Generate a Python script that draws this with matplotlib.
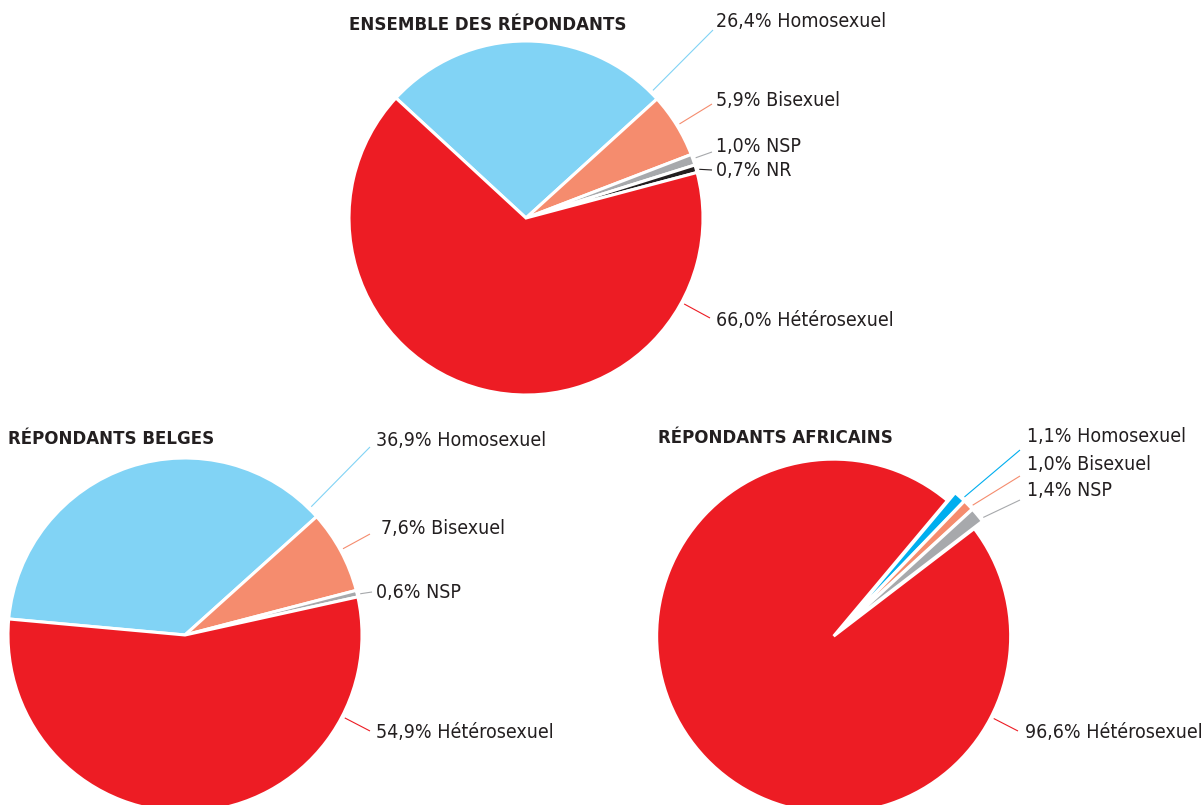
import math
import matplotlib
matplotlib.use('Agg')
import matplotlib.pyplot as plt
from matplotlib import font_manager

W, H = 1204, 805
R = 177

# colours
RED = '#ED1C24'
LIGHT_BLUE = '#81D3F5'
BLUE = '#00AEEF'
SALMON = '#F58C6E'
GREY = '#A7A9AC'
BLACK = '#231F20'
TEXT = '#231F20'

# data (percent)
ensemble_names = ['Homosexuel', 'Bisexuel', 'NSP', 'NR', 'Hétérosexuel']
ensemble_values = [26.4, 5.9, 1.0, 0.7, 66.0]
ensemble_colors = [LIGHT_BLUE, SALMON, GREY, BLACK, RED]

belges_names = ['Homosexuel', 'Bisexuel', 'NSP', 'Hétérosexuel']
belges_values = [36.9, 7.6, 0.6, 54.9]
belges_colors = [LIGHT_BLUE, SALMON, GREY, RED]

africains_names = ['Homosexuel', 'Bisexuel', 'NSP', 'Hétérosexuel']
africains_values = [1.1, 1.0, 1.4, 96.6]
africains_colors = [BLUE, SALMON, GREY, RED]

# pick a narrow font if there is one
names = {f.name for f in font_manager.fontManager.ttflist}
if 'Liberation Sans Narrow' in names:
    FAMILY, STRETCH = 'Liberation Sans Narrow', 'normal'
else:
    FAMILY, STRETCH = 'DejaVu Sans', 'condensed'

fig = plt.figure(figsize=(W / 100, H / 100), dpi=100)
ax = fig.add_axes([0, 0, 1, 1])


def fmt(v, name):
    return f"{v:.1f}%".replace('.', ',') + ' ' + name


def clamp_angle(a, t1, t2, pad=0.8):
    a = t1 + (a - t1) % 360
    if a <= t2:
        if t2 - t1 <= 2 * pad:
            return (t1 + t2) / 2
        return min(max(a, t1 + pad), t2 - pad)
    # outside the wedge: snap to the nearest side
    if (t1 + 360 - a) < (a - t2):
        return t1 + pad
    return t2 - pad


def draw_pie(values, names_, colors, start, center, title, title_xy, title_ha,
             text_xy, line_ends, explode=None):
    cx, cy = center
    wedges, _ = ax.pie(values, colors=colors, startangle=start, counterclock=False,
                       center=(cx, H - cy), radius=R, explode=explode,
                       wedgeprops=dict(edgecolor='white', linewidth=2.2))
    for w, v, n, (tx, ty), (ex, ey) in zip(wedges, values, names_, text_xy, line_ends):
        wx, wy = w.center
        ex_, ey_ = ex, H - ey
        a = math.degrees(math.atan2(ey_ - wy, ex_ - wx))
        a = clamp_angle(a, w.theta1, w.theta2)
        sx = wx + (R + 3) * math.cos(math.radians(a))
        sy = wy + (R + 3) * math.sin(math.radians(a))
        ax.plot([sx, ex_], [sy, ey_], color=w.get_facecolor(), lw=0.8,
                solid_capstyle='butt')
        ax.text(tx, H - ty, fmt(v, n), ha='left', va='center', fontsize=14,
                family=FAMILY, stretch=STRETCH, color=TEXT)
    ax.text(title_xy[0], H - title_xy[1], title, ha=title_ha, va='center',
            fontsize=13.3, fontweight='bold', family=FAMILY, stretch=STRETCH,
            color=TEXT)


draw_pie(ensemble_values, ensemble_names, ensemble_colors, 137.3, (526, 218),
         'ENSEMBLE DES RÉPONDANTS', (488, 25), 'center',
         [(716, 22), (716, 101), (716, 146), (716, 171), (716, 321)],
         [(713, 30), (712, 104), (712, 152), (712, 170), (710, 318)])

draw_pie(belges_values, belges_names, belges_colors, 174.8, (185, 635),
         'RÉPONDANTS BELGES', (8, 439), 'left',
         [(376, 440), (381, 529), (376, 592), (376, 733)],
         [(370, 447), (370, 534), (372, 592), (370, 731)])

draw_pie(africains_values, africains_names, africains_colors, 50.0, (838, 632),
         'RÉPONDANTS AFRICAINS', (658, 438), 'left',
         [(1027, 437), (1027, 464), (1027, 491), (1025, 732)],
         [(1020, 450), (1020, 476), (1020, 500), (1018, 731)],
         explode=[5, 5, 5, 6])

ax.set_xlim(0, W)
ax.set_ylim(0, H)
ax.set_aspect('equal')
ax.axis('off')

fig.savefig('out.png', dpi=100, facecolor='white')
